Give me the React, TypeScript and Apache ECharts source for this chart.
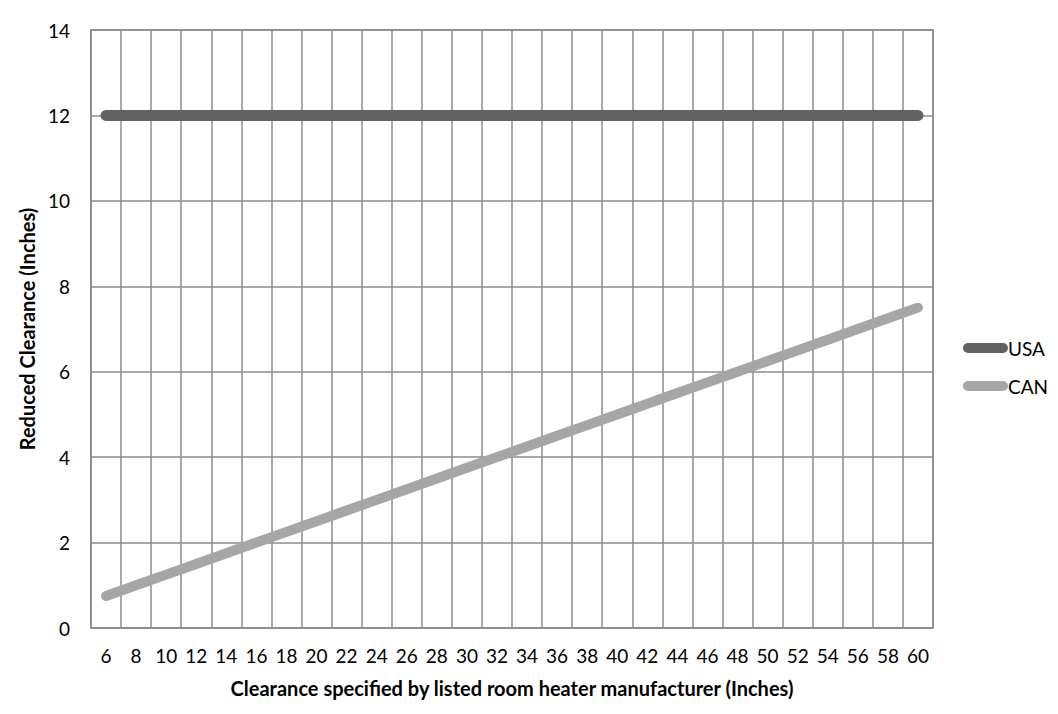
import React, { useEffect, useRef } from "react";
import * as echarts from "echarts";

const categories = ["6","8","10","12","14","16","18","20","22","24","26","28","30","32","34","36","38","40","42","44","46","48","50","52","54","56","58","60"];
const usaValues = [12,12,12,12,12,12,12,12,12,12,12,12,12,12,12,12,12,12,12,12,12,12,12,12,12,12,12,12];
const canValues = [0.75,1,1.25,1.5,1.75,2,2.25,2.5,2.75,3,3.25,3.5,3.75,4,4.25,4.5,4.75,5,5.25,5.5,5.75,6,6.25,6.5,6.75,7,7.25,7.5];
const yTicks = { min: 0, max: 14, interval: 2 };

const FONT = "Lato";
const legendIcon = "path://M5,0 H40 A5,5 0 0 1 40,10 H5 A5,5 0 0 1 5,0 Z";

export default function App() {
  const ref = useRef<HTMLDivElement>(null);
  useEffect(() => {
    if (!ref.current) return;
    const chart = echarts.init(ref.current, undefined, { renderer: "svg" });
    chart.setOption({
      animation: false,
      backgroundColor: "#ffffff",
      textStyle: { fontFamily: FONT },
      grid: { left: 91, right: 125, top: 30, bottom: 86, show: true, borderColor: "#8c8c8c", borderWidth: 1.5 },
      legend: {
        orient: "vertical",
        left: 963,
        top: 338,
        padding: 0,
        itemWidth: 45,
        itemHeight: 10,
        itemGap: 18,
        icon: legendIcon,
        textStyle: { fontFamily: FONT, fontSize: 19, lineHeight: 20, color: "#000", padding: [0, 0, 0, -5] },
        data: ["USA", "CAN"],
      },
      xAxis: {
        type: "category",
        data: categories,
        boundaryGap: true,
        axisLine: { lineStyle: { color: "#8c8c8c", width: 1.5 } },
        axisTick: { show: false },
        axisLabel: { interval: 0, color: "#000", fontSize: 19, fontFamily: FONT, margin: 18 },
        splitLine: { show: true, interval: 0, lineStyle: { color: "#8c8c8c", width: 1.5 } },
        name: "Clearance specified by listed room heater manufacturer (Inches)",
        nameLocation: "middle",
        nameGap: 50,
        nameTextStyle: { fontWeight: "bold", fontSize: 20, color: "#000", fontFamily: FONT },
      },
      yAxis: {
        type: "value",
        min: yTicks.min,
        max: yTicks.max,
        interval: yTicks.interval,
        axisLine: { show: true, lineStyle: { color: "#8c8c8c", width: 1.5 } },
        axisTick: { show: false },
        axisLabel: { color: "#000", fontSize: 19, fontFamily: FONT, margin: 21 },
        splitLine: { show: true, lineStyle: { color: "#8c8c8c", width: 1.5 } },
        name: "Reduced Clearance (Inches)",
        nameLocation: "middle",
        nameGap: 46,
        nameTextStyle: { fontWeight: "bold", fontSize: 20, color: "#000", fontFamily: FONT },
      },
      series: [
        {
          name: "USA",
          type: "line",
          data: usaValues,
          showSymbol: false,
          symbol: "none",
          color: "#626262",
          lineStyle: { width: 11, color: "#626262", cap: "round" },
          itemStyle: { color: "#626262" },
        },
        {
          name: "CAN",
          type: "line",
          data: canValues,
          showSymbol: false,
          symbol: "none",
          color: "#a6a6a6",
          lineStyle: { width: 10, color: "#a6a6a6", cap: "round" },
          itemStyle: { color: "#a6a6a6" },
        },
      ],
    });
    return () => chart.dispose();
  }, []);
  return <div ref={ref} style={{ position: "fixed", left: 0, top: 0, width: 1058, height: 714 }} />;
}
